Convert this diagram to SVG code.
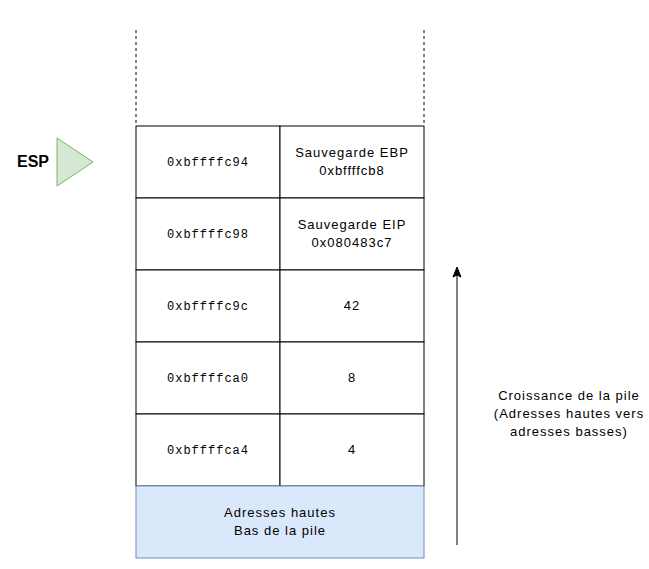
<svg xmlns="http://www.w3.org/2000/svg" width="649" height="569" viewBox="0 0 649 569">
<style>
.cell{fill:#ffffff;stroke:#000000;stroke-width:1}
.t{font-family:"Liberation Sans",Arial,sans-serif;font-size:13px;letter-spacing:1px;fill:#000000;text-anchor:middle}
.m{font-family:"Liberation Mono","Courier New",monospace;font-size:12px;letter-spacing:1px;fill:#000000;text-anchor:middle}
.dash{stroke:#000000;stroke-width:1;stroke-dasharray:3 3;fill:none}
</style>
<rect width="649" height="569" fill="#ffffff"/>
<g id="edges">
<line class="dash" x1="136" y1="30" x2="136" y2="126"/>
<line class="dash" x1="424" y1="30" x2="424" y2="126"/>
<line x1="457" y1="545" x2="457" y2="274" stroke="#000" stroke-width="1"/>
<polygon points="457,267 453,277 457,275 461,277" fill="#000" stroke="#000" stroke-width="1"/>
</g>
<g id="esp">
<text x="33" y="167" font-family="Liberation Sans,Arial,sans-serif" font-size="16" font-weight="bold" text-anchor="middle">ESP</text>
<polygon points="57,138 93,162 57,186" fill="#d5e8d4" stroke="#82b366" stroke-width="1"/>
</g>
<g id="row1">
<rect class="cell" x="136" y="126" width="144" height="72"/>
<text class="m" x="208" y="166">0xbffffc94</text>
<rect class="cell" x="280" y="126" width="144" height="72"/>
<text class="t" x="352" y="157">Sauvegarde EBP</text>
<text class="t" x="352" y="175">0xbffffcb8</text>
</g>
<g id="row2">
<rect class="cell" x="136" y="198" width="144" height="72"/>
<text class="m" x="208" y="238">0xbffffc98</text>
<rect class="cell" x="280" y="198" width="144" height="72"/>
<text class="t" x="352" y="229">Sauvegarde EIP</text>
<text class="t" x="352" y="247">0x080483c7</text>
</g>
<g id="row3">
<rect class="cell" x="136" y="270" width="144" height="72"/>
<text class="m" x="208" y="310">0xbffffc9c</text>
<rect class="cell" x="280" y="270" width="144" height="72"/>
<text class="t" x="352" y="310">42</text>
</g>
<g id="row4">
<rect class="cell" x="136" y="342" width="144" height="72"/>
<text class="m" x="208" y="382">0xbffffca0</text>
<rect class="cell" x="280" y="342" width="144" height="72"/>
<text class="t" x="352" y="382">8</text>
</g>
<g id="row5">
<rect class="cell" x="136" y="414" width="144" height="72"/>
<text class="m" x="208" y="454">0xbffffca4</text>
<rect class="cell" x="280" y="414" width="144" height="72"/>
<text class="t" x="352" y="454">4</text>
</g>
<g id="bottom">
<rect x="136" y="486" width="288" height="72" fill="#dae8fc" stroke="#6c8ebf" stroke-width="1"/>
<text class="t" x="280" y="517">Adresses hautes</text>
<text class="t" x="280" y="535">Bas de la pile</text>
</g>
<g id="label">
<text class="t" x="569" y="400">Croissance de la pile</text>
<text class="t" x="569" y="418">(Adresses hautes vers</text>
<text class="t" x="569" y="436">adresses basses)</text>
</g>
</svg>
